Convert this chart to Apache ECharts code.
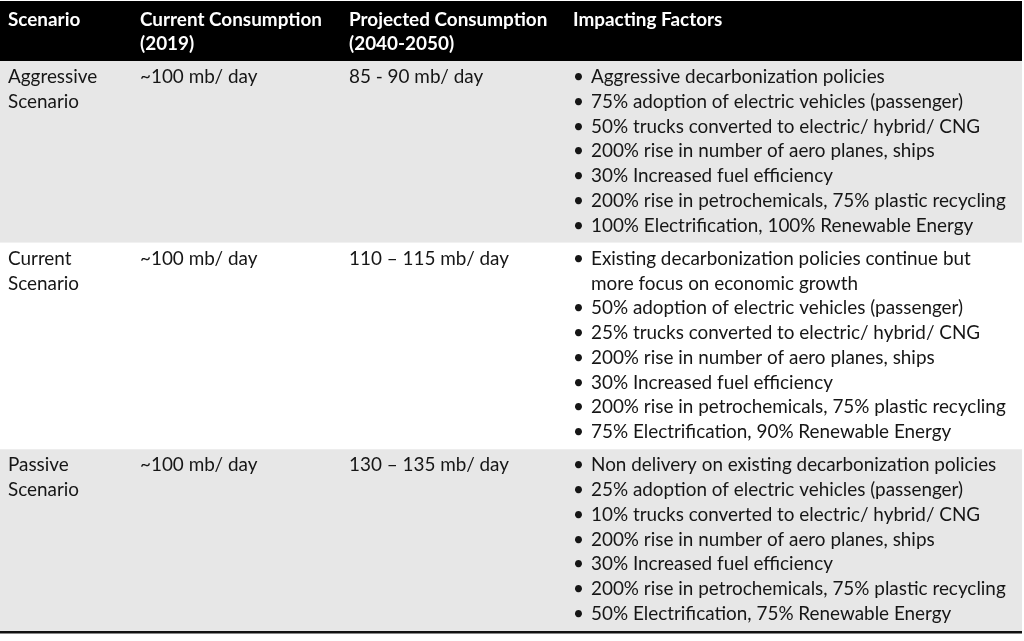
<!DOCTYPE html>
<html>
<head>
<meta charset="utf-8">
<script src="https://cdn.jsdelivr.net/npm/echarts@6/dist/echarts.min.js"></script>
<style>
  html, body { margin: 0; padding: 0; background: #fff; }
  #main { width: 1024px; height: 641px; }
</style>
</head>
<body>
<div id="main"></div>
<script>
// table content
const headers = ['Scenario', 'Current Consumption\n(2019)', 'Projected Consumption\n(2040-2050)', 'Impacting Factors'];
const scenarios = ['Aggressive\nScenario', 'Current\nScenario', 'Passive\nScenario'];
const currentUse = ['~100 mb/ day', '~100 mb/ day', '~100 mb/ day'];
const projectedUse = ['85 - 90 mb/ day', '110 \u2013 115 mb/ day', '130 \u2013 135 mb/ day'];
const aggressiveFactors = [
    'Aggressive decarbonization policies',
    '75% adoption of electric vehicles (passenger)',
    '50% trucks converted to electric/ hybrid/ CNG',
    '200% rise in number of aero planes, ships',
    '30% Increased fuel efficiency',
    '200% rise in petrochemicals, 75% plastic recycling',
    '100% Electrification, 100% Renewable Energy'
];
const currentFactors = [
    'Existing decarbonization policies continue but\nmore focus on economic growth',
    '50% adoption of electric vehicles (passenger)',
    '25% trucks converted to electric/ hybrid/ CNG',
    '200% rise in number of aero planes, ships',
    '30% Increased fuel efficiency',
    '200% rise in petrochemicals, 75% plastic recycling',
    '75% Electrification, 90% Renewable Energy'
];
const passiveFactors = [
    'Non delivery on existing decarbonization policies',
    '25% adoption of electric vehicles (passenger)',
    '10% trucks converted to electric/ hybrid/ CNG',
    '200% rise in number of aero planes, ships',
    '30% Increased fuel efficiency',
    '200% rise in petrochemicals, 75% plastic recycling',
    '50% Electrification, 75% Renewable Energy'
];
const factors = [aggressiveFactors, currentFactors, passiveFactors];

const W = 1024, H = 641;
const colX = [8, 140, 349, 573];
const bulletTextX = 591;
const lineH = 24.75;
const headTop = 1, headBottom = 61;
const rowBg = ['#e7e7e7', '#ffffff', '#e7e7e7'];
const FONT = 'Lato, "Open Sans", sans-serif';
const fontSize = 18.9;

// each row's line count decides its height
const rowLines = factors.map(f => f.reduce((n, s) => n + s.split('\n').length, 0));
const rowTops = [];
let acc = headBottom;
rowLines.forEach(n => { rowTops.push(acc); acc += n * lineH + 8.5; });
const tableBottom = acc;

function textEl(x, y, str, opts) {
    return {
        type: 'text',
        style: Object.assign({
            x: x, y: y, text: str,
            fill: '#161616',
            font: fontSize + 'px ' + FONT,
            verticalAlign: 'middle',
            align: 'left'
        }, opts || {})
    };
}

const chart = echarts.init(document.getElementById('main'));
chart.setOption({
    animation: false,
    backgroundColor: '#fff',
    grid: { left: 0, right: 0, top: 0, bottom: 0 },
    xAxis: { type: 'value', min: 0, max: W, show: false },
    yAxis: { type: 'value', min: 0, max: H, inverse: true, show: false },
    series: [{
        type: 'custom',
        coordinateSystem: 'cartesian2d',
        data: [-1, 0, 1, 2].map(i => [i]),
        renderItem: function (params, api) {
            const idx = api.value(0);
            const children = [];
            if (idx < 0) {
                const a = api.coord([0, headTop]);
                const b = api.coord([1022, headBottom]);
                children.push({ type: 'rect', shape: { x: a[0], y: a[1], width: b[0] - a[0], height: b[1] - a[1] }, style: { fill: '#000' } });
                headers.forEach((h, c) => {
                    h.split('\n').forEach((ln, k) => {
                        const p = api.coord([colX[c], headTop + 19 + k * 24]);
                        children.push(textEl(p[0], p[1], ln, { fill: '#fff', font: 'bold ' + fontSize + 'px ' + FONT }));
                    });
                });
                // bottom rule
                const c1 = api.coord([0, tableBottom]);
                const c2 = api.coord([1022, tableBottom + 2.5]);
                children.push({ type: 'rect', shape: { x: c1[0], y: c1[1], width: c2[0] - c1[0], height: c2[1] - c1[1] }, style: { fill: '#111' } });
                return { type: 'group', children: children };
            }
            const top = rowTops[idx];
            const bottom = idx < rowTops.length - 1 ? rowTops[idx + 1] : tableBottom;
            const a = api.coord([0, top]);
            const b = api.coord([1022, bottom]);
            children.push({ type: 'rect', z2: -1, shape: { x: a[0], y: a[1], width: b[0] - a[0], height: b[1] - a[1] }, style: { fill: rowBg[idx] } });
            const firstY = top + 16;
            scenarios[idx].split('\n').forEach((ln, k) => {
                const p = api.coord([colX[0], firstY + k * lineH]);
                children.push(textEl(p[0], p[1], ln));
            });
            let p = api.coord([colX[1], firstY]);
            children.push(textEl(p[0], p[1], currentUse[idx]));
            p = api.coord([colX[2], firstY]);
            children.push(textEl(p[0], p[1], projectedUse[idx]));
            let line = 0;
            factors[idx].forEach(item => {
                item.split('\n').forEach((ln, k) => {
                    const y = firstY + line * lineH;
                    if (k === 0) {
                        const pb = api.coord([colX[3], y]);
                        children.push(textEl(pb[0], pb[1], '\u2022'));
                    }
                    const pt = api.coord([bulletTextX, y]);
                    children.push(textEl(pt[0], pt[1], ln));
                    line++;
                });
            });
            return { type: 'group', children: children };
        }
    }]
});
</script>
</body>
</html>
